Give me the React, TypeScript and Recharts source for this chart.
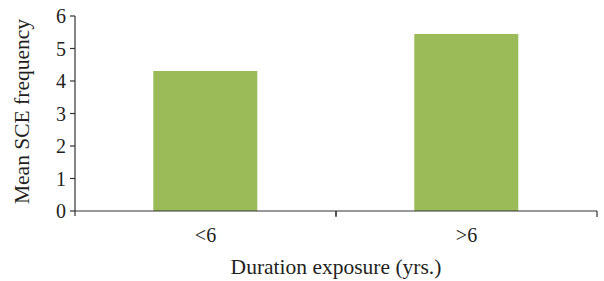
import { Bar, BarChart, XAxis, YAxis } from "recharts";

const categories = ["<6", ">6"];
const meanSce = [4.31, 5.45];
const yTicks = [0, 1, 2, 3, 4, 5, 6];

const FONT = "Liberation Serif, DejaVu Serif";
const AXIS = "#333333";
const BAR = "#9BBB59";
const INK = "#231f20";
const FS = 20;
const TITLE_FS = 21.5;

const WIDTH = 604;
const HEIGHT = 281;
const LEFT = 75;
const RIGHT = 7;
const HALF_BAND = (WIDTH - LEFT - RIGHT) / categories.length / 2;

const data = categories.map((name, i) => ({ name, value: meanSce[i] }));

// Category ticks: label at band centre, tick marks on band edges.
function CategoryTick(props: any) {
  const { x, y, payload } = props;
  return (
    <g>
      <line x1={x + HALF_BAND} x2={x + HALF_BAND} y1={y} y2={y + 6} stroke={AXIS} strokeWidth={1.2} />
      <line x1={x - HALF_BAND} x2={x - HALF_BAND} y1={y} y2={y + 5} stroke={AXIS} strokeWidth={1.2} />
      <text x={x} y={y + 31} textAnchor="middle" fontFamily={FONT} fontSize={FS} fill={INK}>
        {payload.value}
      </text>
    </g>
  );
}

export default function App() {
  return (
    <div style={{ position: "absolute", left: 0, top: 0, background: "#fff" }}>
      <BarChart
        width={WIDTH}
        height={HEIGHT}
        data={data}
        margin={{ top: 16, right: RIGHT, bottom: 0, left: 0 }}
        barCategoryGap="30%"
      >
        <XAxis
          dataKey="name"
          height={70}
          tickSize={0}
          tickMargin={0}
          tick={<CategoryTick />}
          axisLine={{ stroke: AXIS, strokeWidth: 1.2 }}
          label={{
            content: (p: any) => {
              const vb = p.viewBox;
              return (
                <text
                  x={vb.x + vb.width / 2}
                  y={vb.y + 63}
                  textAnchor="middle"
                  fontFamily={FONT}
                  fontSize={TITLE_FS}
                  fill={INK}
                >
                  Duration exposure (yrs.)
                </text>
              );
            },
          }}
        />
        <YAxis
          width={LEFT}
          domain={[0, 6]}
          ticks={yTicks}
          interval={0}
          tickSize={5}
          tickMargin={4}
          axisLine={{ stroke: AXIS, strokeWidth: 1.2 }}
          tickLine={{ stroke: AXIS, strokeWidth: 1.2 }}
          tick={{ fontFamily: FONT, fontSize: FS, fill: INK }}
          label={{
            content: (p: any) => {
              const vb = p.viewBox;
              const cy = vb.y + vb.height / 2 - 2;
              return (
                <text
                  x={22}
                  y={cy}
                  transform={`rotate(-90 22 ${cy})`}
                  textAnchor="middle"
                  dominantBaseline="central"
                  fontFamily={FONT}
                  fontSize={TITLE_FS}
                  fill={INK}
                >
                  Mean SCE frequency
                </text>
              );
            },
          }}
        />
        <Bar dataKey="value" fill={BAR} isAnimationActive={false} />
      </BarChart>
    </div>
  );
}
